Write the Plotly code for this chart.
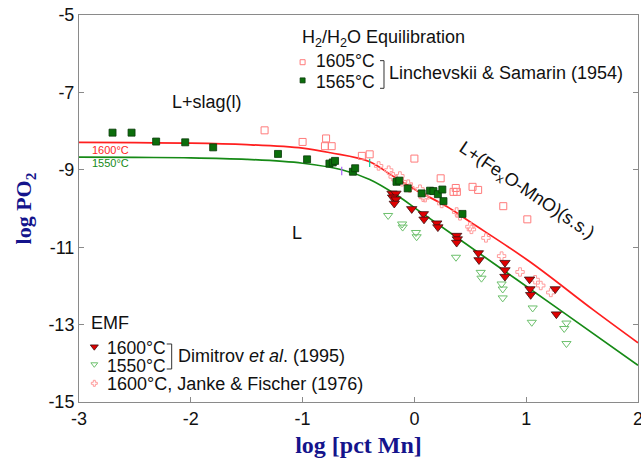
import plotly.graph_objects as go

# ---- model curves ----
red_curve_x = [-3.0, -2.5, -2.0, -1.5, -1.0, -0.75, -0.4, -0.2, 0.0, 0.29, 0.5, 1.03, 1.6, 2.0]
red_curve_y = [-8.29, -8.30, -8.31, -8.35, -8.44, -8.56, -8.79, -9.15, -9.5, -9.95, -10.35, -11.37, -12.62, -13.47]
green_curve_x = [-3.0, -2.5, -2.0, -1.5, -1.0, -0.65, -0.4, -0.16, 0.05, 0.38, 1.3, 2.0]
green_curve_y = [-8.67, -8.68, -8.69, -8.73, -8.83, -9.0, -9.25, -9.65, -10.08, -10.75, -12.62, -14.05]
red_kink = (-0.4, -8.82)
green_kink = (-0.65, -9.03)

# ---- Linchevskii & Samarin (1954), H2/H2O equilibration ----
ls1565_x = [-2.70, -2.53, -2.31, -2.05, -1.80, -1.22, -0.96, -0.76, -0.73, -0.71, -0.55, -0.53,
            -0.16, -0.135, -0.06, 0.065, 0.14, 0.17, 0.21, 0.25, 0.26, 0.43]
ls1565_y = [-8.04, -8.04, -8.27, -8.29, -8.42, -8.59, -8.73, -8.84, -8.81, -8.77, -9.05, -8.96,
            -9.31, -9.28, -9.48, -9.61, -9.54, -9.55, -9.63, -9.51, -9.81, -10.14]
ls1605_x = [-1.34, -1.0, -0.79, -0.80, -0.74, -0.47, -0.40, 0.0, 0.235, 0.35, 0.38, 0.37, 0.52, 0.57, 0.795, 1.01]
ls1605_y = [-7.98, -8.28, -8.19, -8.39, -8.39, -8.64, -8.60, -8.71, -9.22, -9.57, -9.57, -9.47, -9.44, -9.52, -9.94, -10.28]

# ---- Dimitrov et al. (1995), EMF ----
dim1600_x = [-0.20, -0.165, -0.195, -0.165, -0.18, -0.024, 0.08, 0.086, 0.20, 0.21, 0.378, 0.384, 0.378,
             0.572, 0.578, 0.81, 0.81, 0.81, 1.03, 1.034, 1.04, 1.26, 1.27]
dim1600_y = [-9.61, -9.61, -9.71, -9.76, -9.87, -10.01, -10.14, -10.28, -10.38, -10.48, -10.70, -10.79, -10.88,
             -11.15, -11.33, -11.40, -11.59, -11.76, -11.83, -12.08, -12.23, -12.08, -12.73]
dim1550_x = [-0.235, -0.11, -0.105, 0.014, 0.02, 0.372, 0.593, 0.60, 0.78, 0.79, 0.79, 1.058, 1.05, 1.36, 1.34, 1.36]
dim1550_y = [-10.18, -10.40, -10.48, -10.62, -10.73, -11.26, -11.65, -11.80, -11.95, -12.08, -12.31, -12.57,
             -12.94, -12.96, -13.10, -13.49]

# ---- Janke & Fischer (1976), 1600 C ----
jf_x = [-0.32, -0.23, -0.19, -0.13, -0.11, -0.055, -0.04, 0.05, 0.08, 0.095, 0.244, 0.378, 0.408,
        0.497, 0.51, 0.64, 0.78, 0.945, 1.08, 1.13, 1.22]
jf_y = [-8.90, -9.01, -9.18, -9.16, -9.31, -9.37, -9.47, -9.50, -9.71, -9.72, -9.87, -10.09, -10.19,
        -10.47, -10.54, -10.76, -11.23, -11.64, -11.84, -11.99, -12.17]

x_ticks = [-3, -2, -1, 0, 1, 2]
x_ticktext = ["-3", "-2", "-1", "0", "1", "2"]
y_ticks = [-15, -13, -11, -9, -7, -5]
y_ticktext = ["-15", "-13", "-11", "-9", "-7", "-5"]

RED = "#ff1f1f"
GREEN = "#168a16"
FONT = "Liberation Sans"
NAVY = "#14148c"

fig = go.Figure()
fig.add_trace(go.Scatter(x=red_curve_x, y=red_curve_y, mode="lines", line=dict(color=RED, width=1.7), line_shape="spline"))
fig.add_trace(go.Scatter(x=green_curve_x, y=green_curve_y, mode="lines", line=dict(color=GREEN, width=1.7), line_shape="spline"))
fig.add_trace(go.Scatter(x=[red_kink[0]], y=[red_kink[1]], mode="markers",
                         marker=dict(symbol="line-ns-open", size=6, line=dict(color=RED, width=1.2))))
fig.add_trace(go.Scatter(x=[green_kink[0]], y=[green_kink[1]], mode="markers",
                         marker=dict(symbol="line-ns-open", size=6, line=dict(color=GREEN, width=1.2))))

sq_open = dict(symbol="square-open", size=7, color="#ff7b7b", line=dict(width=1))
sq_fill = dict(symbol="square", size=7, color="#0b6e0b", line=dict(color="#0a3a0a", width=0.8))
tri_fill = dict(symbol="triangle-down", size=9, color="#e00000", line=dict(color="#3a1010", width=0.8))
tri_open = dict(symbol="triangle-down-open", size=8, color="#6cc06c", line=dict(width=1))
cross_open = dict(symbol="cross-open", size=7, color="#ff9a9a", line=dict(width=1))

fig.add_trace(go.Scatter(x=ls1605_x, y=ls1605_y, mode="markers", marker=sq_open))
fig.add_trace(go.Scatter(x=jf_x, y=jf_y, mode="markers", marker=cross_open))
fig.add_trace(go.Scatter(x=dim1550_x, y=dim1550_y, mode="markers", marker=tri_open))
fig.add_trace(go.Scatter(x=ls1565_x, y=ls1565_y, mode="markers", marker=sq_fill))
fig.add_trace(go.Scatter(x=dim1600_x, y=dim1600_y, mode="markers", marker=tri_fill))

# legend markers on an overlay axis spanning the plot area (0..1)
def legend_marker(x, y, m):
    mm = dict(m)
    mm["size"] = max(5, m["size"] - 2)
    fig.add_trace(go.Scatter(x=[x], y=[y], mode="markers", marker=mm, xaxis="x2", yaxis="y2"))

legend_marker(0.400, 0.878, sq_open)
legend_marker(0.400, 0.831, sq_fill)
legend_marker(0.0274, 0.1429, tri_fill)
legend_marker(0.0274, 0.0974, tri_open)
legend_marker(0.0274, 0.0483, cross_open)

def txt(x, y, s, size=18, color="#111111", angle=0, xanchor="left"):
    fig.add_annotation(x=x, y=y, xref="paper", yref="paper", text=s, showarrow=False,
                       xanchor=xanchor, yanchor="middle", textangle=angle,
                       font=dict(family=FONT, size=size, color=color))

txt(0.396, 0.940, "H<sub>2</sub>/H<sub>2</sub>O Equilibration")
txt(0.420, 0.881, "1605°C", size=17.5)
txt(0.420, 0.827, "1565°C", size=17.5)
txt(0.551, 0.849, "Linchevskii &amp; Samarin (1954)")
txt(0.162, 0.776, "L+slag(l)")
txt(0.378, 0.436, "L")
txt(0.801, 0.545, "L+(Fe<sub>x</sub>O-MnO)(s.s.)", angle=34, xanchor="center")
txt(0.019, 0.651, "1600°C", size=11, color=RED)
txt(0.019, 0.617, "1550°C", size=11, color=GREEN)
txt(0.018, 0.2034, "EMF")
txt(0.046, 0.1408, "1600°C", size=17.5)
txt(0.046, 0.0918, "1550°C", size=17.5)
txt(0.173, 0.1189, "Dimitrov <i>et al</i>. (1995)")
txt(0.046, 0.0465, "1600°C, Janke &amp; Fischer (1976)")

def bracket(x0, x1, yt, yb):
    fig.add_shape(type="path", xref="paper", yref="paper",
                  path=f"M {x0},{yt} L {x1},{yt} L {x1},{yb} L {x0},{yb}",
                  line=dict(color="#333333", width=1))

bracket(0.5385, 0.5456, 0.882, 0.8106)
bracket(0.1569, 0.1658, 0.1499, 0.0853)

axis_common = dict(showline=True, linecolor="#8a8a8a", linewidth=1, ticks="inside", ticklen=5,
                   tickcolor="#8a8a8a", showgrid=False, zeroline=False, ticklabeloverflow="allow",
                   automargin=False,
                   tickfont=dict(family=FONT, size=18, color="#111111"))

fig.update_layout(
    width=641, height=461,
    margin=dict(l=79, r=3, t=15, b=59, autoexpand=False),
    plot_bgcolor="white", paper_bgcolor="white",
    showlegend=False,
    xaxis=dict(range=[-3, 2], tickvals=x_ticks, ticktext=x_ticktext, mirror=True,
               title=dict(text="<b>log [pct Mn]</b>", standoff=8,
                          font=dict(family="Liberation Serif", size=24, color=NAVY)),
               **axis_common),
    yaxis=dict(range=[-15, -5], tickvals=y_ticks, ticktext=y_ticktext, mirror="ticks",
               title=dict(text="<b>log PO<sub>2</sub></b>", standoff=10,
                          font=dict(family="Liberation Serif", size=22, color=NAVY)),
               **axis_common),
    xaxis2=dict(overlaying="x", range=[0, 1], visible=False),
    yaxis2=dict(overlaying="y", range=[0, 1], visible=False),
)

fig.write_html("out.html")
